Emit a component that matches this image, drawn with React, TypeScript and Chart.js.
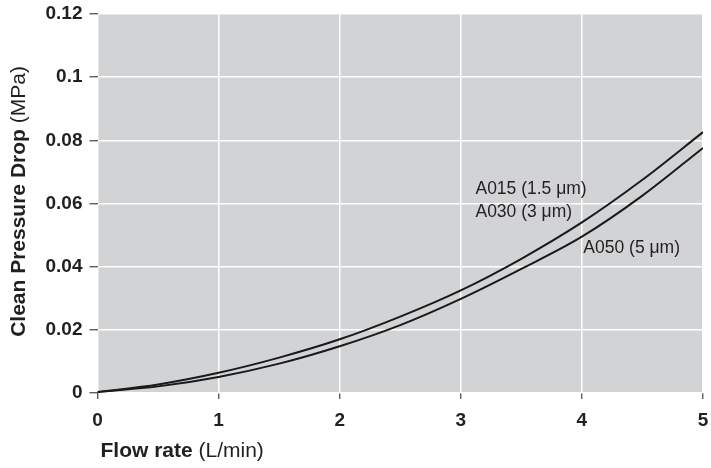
import React, { useEffect, useRef } from "react";
import { Chart, registerables } from "chart.js";
Chart.register(...registerables);

const flowRate = [0, 0.5, 1, 1.5, 2, 2.5, 3, 3.5, 4, 4.5, 5];
const dropA015A030 = [0.0003, 0.0027, 0.0064, 0.0112, 0.0170, 0.0242, 0.0325, 0.0425, 0.0540, 0.0675, 0.0826];
const dropA050 = [0.0003, 0.0021, 0.0051, 0.0093, 0.0148, 0.0215, 0.0298, 0.0393, 0.0495, 0.0625, 0.0776];
const xTickValues = [0, 1, 2, 3, 4, 5];
const yTickValues = [0, 0.02, 0.04, 0.06, 0.08, 0.1, 0.12];
const yTickLabels = ["0", "0.02", "0.04", "0.06", "0.08", "0.1", "0.12"];
const seriesLabels = ["A015 (1.5 μm)", "A030 (3 μm)", "A050 (5 μm)"];
const labelX = [3.121, 3.121, 4.012];
const labelY = [0.063, 0.0558, 0.0442];
const yTitleBold = "Clean Pressure Drop ";
const yTitleLight = "(MPa)";
const xTitleBold = "Flow rate ";
const xTitleLight = "(L/min)";

const FONT = "'Liberation Sans', Arial, sans-serif";
const TEXT = "#231f20";

export default function App() {
  const ref = useRef<HTMLCanvasElement | null>(null);
  useEffect(() => {
    if (!ref.current) return;
    const bgPlugin = {
      id: "bg",
      beforeDraw(chart: any) {
        const { ctx, chartArea: a } = chart;
        ctx.save();
        ctx.fillStyle = "#d2d3d5";
        ctx.fillRect(a.left, a.top, a.right - a.left, a.bottom - a.top);
        ctx.restore();
      },
    };
    const textPlugin = {
      id: "texts",
      afterDatasetsDraw(chart: any) {
        const { ctx, scales } = chart;
        ctx.save();
        ctx.fillStyle = TEXT;
        ctx.font = `17.5px ${FONT}`;
        ctx.textBaseline = "alphabetic";
        ctx.textAlign = "left";
        seriesLabels.forEach((t, i) => {
          ctx.fillText(t, scales.x.getPixelForValue(labelX[i]), scales.y.getPixelForValue(labelY[i]));
        });
        ctx.restore();
      },
      afterDraw(chart: any) {
        const { ctx, chartArea: a } = chart;
        ctx.save();
        ctx.fillStyle = TEXT;
        ctx.textBaseline = "alphabetic";
        ctx.textAlign = "left";
        // y title
        ctx.translate(25, (a.top + a.bottom) / 2 - 2);
        ctx.rotate(-Math.PI / 2);
        ctx.font = `bold 21px ${FONT}`;
        const wb = ctx.measureText(yTitleBold).width;
        ctx.font = `21px ${FONT}`;
        const wl = ctx.measureText(yTitleLight).width;
        const sx = -(wb + wl) / 2;
        ctx.font = `bold 21px ${FONT}`;
        ctx.fillText(yTitleBold, sx, 0);
        ctx.font = `21px ${FONT}`;
        ctx.fillText(yTitleLight, sx + wb, 0);
        ctx.restore();
        // x title
        ctx.save();
        ctx.fillStyle = TEXT;
        ctx.textBaseline = "alphabetic";
        ctx.textAlign = "left";
        const x0 = a.left + 3;
        const y0 = a.bottom + 64;
        ctx.font = `bold 21px ${FONT}`;
        ctx.fillText(xTitleBold, x0, y0);
        const w2 = ctx.measureText(xTitleBold).width;
        ctx.font = `21px ${FONT}`;
        ctx.fillText(xTitleLight, x0 + w2, y0);
        ctx.restore();
      },
    };
    const chart = new Chart(ref.current, {
      type: "line",
      data: {
        datasets: [
          {
            label: "A015 / A030",
            data: flowRate.map((x, i) => ({ x, y: dropA015A030[i] })),
            borderColor: "#1a1a1a",
            borderWidth: 2,
            pointRadius: 0,
            cubicInterpolationMode: "monotone",
            fill: false,
          },
          {
            label: "A050",
            data: flowRate.map((x, i) => ({ x, y: dropA050[i] })),
            borderColor: "#1a1a1a",
            borderWidth: 2,
            pointRadius: 0,
            cubicInterpolationMode: "monotone",
            fill: false,
          },
        ],
      },
      plugins: [bgPlugin, textPlugin],
      options: {
        animation: false,
        responsive: true,
        maintainAspectRatio: false,
        layout: { padding: { top: 14, right: 8, left: 0, bottom: 0 } },
        plugins: { legend: { display: false }, tooltip: { enabled: false } },
        scales: {
          x: {
            type: "linear",
            min: 0,
            max: 5,
            afterFit(scale: any) {
              scale.height = 75;
              scale.paddingLeft = 0;
              scale.paddingRight = 0;
            },
            afterBuildTicks(scale: any) { scale.ticks = xTickValues.map((v) => ({ value: v })); },
            ticks: {
              color: TEXT,
              font: { family: FONT, size: 19, weight: "bold" },
              padding: 10,
              callback: (v: any) => String(v),
            },
            grid: { color: "#ffffff", lineWidth: 1.5, tickColor: "#444", tickLength: 6, tickWidth: 1.2 },
            border: { display: false },
          },
          y: {
            type: "linear",
            min: 0,
            max: 0.12,
            afterFit(scale: any) {
              scale.width = 97.5;
              scale.paddingTop = 0;
              scale.paddingBottom = 0;
            },
            afterBuildTicks(scale: any) { scale.ticks = yTickValues.map((v) => ({ value: v })); },
            ticks: {
              color: TEXT,
              font: { family: FONT, size: 19, weight: "bold" },
              padding: 7,
              callback: (v: any) => {
                const i = yTickValues.findIndex((t) => Math.abs(t - v) < 1e-9);
                return i >= 0 ? yTickLabels[i] : "";
              },
            },
            grid: { color: "#ffffff", lineWidth: 1.5, tickColor: "#444", tickLength: 8, tickWidth: 1.2 },
            border: { display: false },
          },
        },
      },
    } as any);
    return () => chart.destroy();
  }, []);
  return (
    <div style={{ position: "fixed", left: 0, top: 0, width: 711, height: 468, background: "#fff" }}>
      <canvas ref={ref} />
    </div>
  );
}
